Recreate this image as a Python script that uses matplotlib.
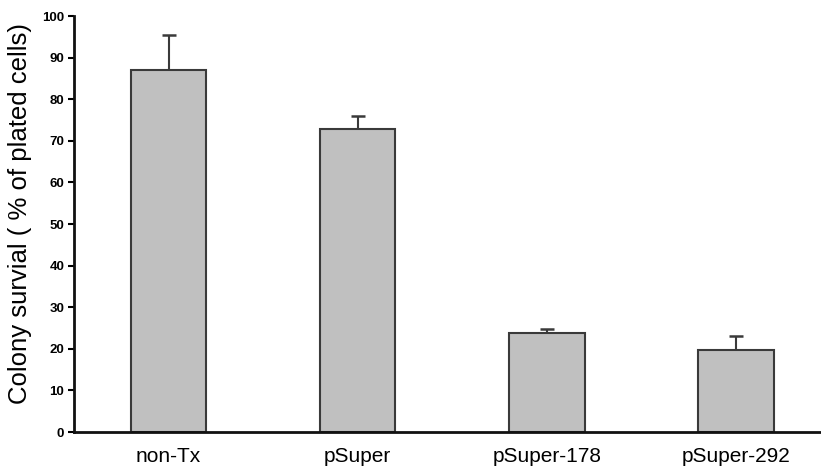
import matplotlib
matplotlib.use('Agg')
import matplotlib.pyplot as plt

plt.rcParams['font.family'] = ['Liberation Sans', 'DejaVu Sans']

groups = ['non-Tx', 'pSuper', 'pSuper-178', 'pSuper-292']
survival = [87.0, 72.8, 23.7, 19.7]
err_up = [8.5, 3.1, 1.0, 3.3]
yticks = [0, 10, 20, 30, 40, 50, 60, 70, 80, 90, 100]

fig = plt.figure(figsize=(8.21, 4.72), dpi=100)
ax = fig.add_axes([0.0901, 0.0847, 0.9099, 0.8813])

x = range(len(groups))
ax.bar(x, survival, width=0.40, color='#c0c0c0', edgecolor='#3a3a3a', linewidth=1.5, zorder=2)
ax.errorbar(x, survival, yerr=[[0] * len(err_up), err_up], fmt='none',
            ecolor='#3a3a3a', elinewidth=1.5, capsize=5, capthick=1.8, zorder=1)

ax.set_xlim(-0.5, 3.45)
ax.set_ylim(0, 100)
ax.set_yticks(yticks)
ax.set_yticklabels([str(t) for t in yticks], fontsize=9.5, fontweight='bold')
ax.set_xticks(list(x))
ax.set_xticklabels(groups, fontsize=15)
ax.tick_params(axis='x', length=0, pad=11)
ax.tick_params(axis='y', length=4, width=1.5, direction='out', pad=3)

for side in ['top', 'right']:
    ax.spines[side].set_visible(False)
for side in ['left', 'bottom']:
    ax.spines[side].set_linewidth(2)
    ax.spines[side].set_color('#111111')

ax.set_ylabel('Colony survial ( % of plated cells)', fontsize=18.5)
ax.yaxis.set_label_coords(-0.056, 0.525)

fig.savefig('out.png', dpi=100)
